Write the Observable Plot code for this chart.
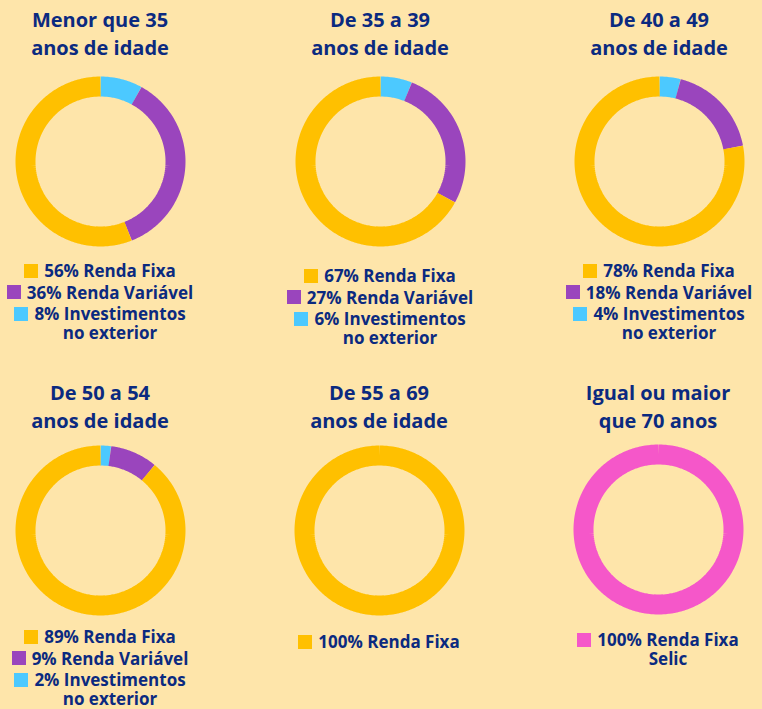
<!DOCTYPE html>
<html><head><meta charset="utf-8">
<script src="https://cdn.jsdelivr.net/npm/d3@7"></script>
<script src="https://cdn.jsdelivr.net/npm/@observablehq/plot@0.6"></script>
<style>
body{margin:0;background:#FEE5AA;width:762px;height:709px;overflow:hidden;position:relative;font-family:"Open Sans",sans-serif;font-weight:700;color:#0B2A80}
.title{position:absolute;width:260px;text-align:center;font-size:20px;line-height:28px}
.chart{position:absolute}
.legend{position:absolute;width:260px;font-size:17px;line-height:19px}
.item{display:flex;justify-content:center;align-items:flex-start;margin-bottom:2.5px}
.sw{width:14px;height:14px;margin-right:6px;margin-top:2.5px;flex:none}
.lbl{text-align:center;white-space:pre}
</style></head><body>
<script>
// ---- data ----
const groupTitles = ["Menor que 35\nanos de idade","De 35 a 39\nanos de idade","De 40 a 49\nanos de idade","De 50 a 54\nanos de idade","De 55 a 69\nanos de idade","Igual ou maior\nque 70 anos"];
const seriesNames = ["Investimentos no exterior","Renda Variável","Renda Fixa","Renda Fixa Selic"];
const seriesLabels = ["Investimentos\nno exterior","Renda Variável","Renda Fixa","Renda Fixa\nSelic"];
const investExterior = [8,6,4,2,0,0];
const rendaVariavel = [36,27,18,9,0,0];
const rendaFixa = [56,67,78,89,100,0];
const rendaFixaSelic = [0,0,0,0,0,100];
const seriesColors = ["#4CC9FF","#9A45BD","#FFC000","#F557C9"];

// ---- layout ----
const cx = [100,380,659,100,379,658];
const cy = [161,161,161,530,530,529];
const titleTop = [6,6,6,379,379,379];
const legendTop = [261,266,261,627,632,630];
const S = 180, R = 75/90;

const valuesBySeries = [investExterior, rendaVariavel, rendaFixa, rendaFixaSelic];

groupTitles.forEach((t, i) => {
  const title = document.createElement("div");
  title.className = "title";
  title.style.left = (cx[i] - 130) + "px";
  title.style.top = titleTop[i] + "px";
  title.innerHTML = t.split("\n").join("<br>");
  document.body.appendChild(title);

  // arc points
  const pts = [];
  let cum = 0;
  valuesBySeries.forEach((vals, s) => {
    const v = vals[i];
    if (!v) return;
    const a0 = cum / 100 * 2 * Math.PI, a1 = (cum + v) / 100 * 2 * Math.PI;
    const n = Math.max(2, Math.ceil(v * 2));
    for (let k = 0; k <= n; k++) {
      const a = a0 + (a1 - a0) * k / n;
      pts.push({series: seriesNames[s], x: R * Math.sin(a), y: R * Math.cos(a)});
    }
    cum += v;
  });

  const plot = Plot.plot({
    width: S, height: S, margin: 0,
    x: {domain: [-1, 1], axis: null},
    y: {domain: [-1, 1], axis: null},
    color: {domain: seriesNames, range: seriesColors},
    style: {background: "transparent", overflow: "visible"},
    marks: [
      Plot.line(pts, {x: "x", y: "y", z: "series", stroke: "series", strokeWidth: 20, strokeLinecap: "butt", strokeLinejoin: "round", curve: "linear"})
    ]
  });
  plot.classList.add("chart");
  plot.style.left = (cx[i] - S / 2) + "px";
  plot.style.top = (cy[i] - S / 2) + "px";
  document.body.appendChild(plot);

  const leg = document.createElement("div");
  leg.className = "legend";
  leg.style.left = (cx[i] - 130) + "px";
  leg.style.top = legendTop[i] + "px";
  [2, 3, 1, 0].forEach(s => {
    const v = valuesBySeries[s][i];
    if (!v) return;
    const it = document.createElement("div");
    it.className = "item";
    const sw = document.createElement("div");
    sw.className = "sw";
    sw.style.background = seriesColors[s];
    const lb = document.createElement("div");
    lb.className = "lbl";
    lb.textContent = v + "% " + seriesLabels[s];
    it.appendChild(sw); it.appendChild(lb);
    leg.appendChild(it);
  });
  document.body.appendChild(leg);
});
</script>
</body></html>
